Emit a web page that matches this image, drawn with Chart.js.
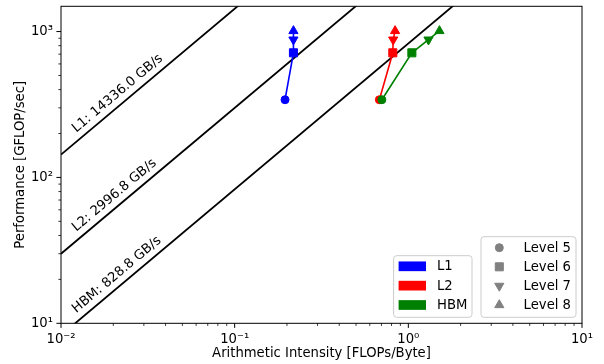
<!DOCTYPE html>
<html>
<head>
<meta charset="utf-8">
<title>Roofline</title>
<script src="https://cdn.jsdelivr.net/npm/chart.js@4.4.1/dist/chart.umd.min.js"></script>
<style>
  html, body { margin: 0; padding: 0; background: #fff; }
  canvas { display: block; }
</style>
</head>
<body>
<canvas id="roofline" width="604" height="364"></canvas>
<script>
// Speicherebenen und ihre Bandbreiten (GB/s)
const memoryLevels = ['L1', 'L2', 'HBM'];
const memoryColors = ['#0000ff', '#ff0000', '#008000'];
const bandwidths = [14336.0, 2996.8, 828.8];

// Kernel-Level, je ein Marker
const kernelLevels = ['Level 5', 'Level 6', 'Level 7', 'Level 8'];
const levelMarkers = ['circle', 'rect', 'triangle', 'triangle'];
const levelRotation = [0, 0, 180, 0];
const levelRadius = [4, 5.7, 5.3, 5.3];

// Arithmetische Intensität (FLOPs/Byte) pro Ebene
const l1Intensity = [0.195, 0.218, 0.218, 0.218];
const l2Intensity = [0.681, 0.814, 0.818, 0.839];
const hbmIntensity = [0.704, 1.048, 1.306, 1.511];
// Leistung (GFLOP/s), für alle Ebenen gleich
const performance = [341, 715, 880, 1010];

// Endpunkte der Dachlinien
const roofIntensity = [0.01, 10];
const l1Roof = [143.36, 143360];
const l2Roof = [29.968, 29968];
const hbmRoof = [8.288, 8288];

const xTickValues = [0.01, 0.1, 1, 10];
const xTickLabels = ['10⁻²', '10⁻¹', '10⁰', '10¹'];
const yTickValues = [10, 100, 1000];
const yTickLabels = ['10¹', '10²', '10³'];

const FONT = '"DejaVu Sans", sans-serif';
const FONT_SIZE = 13.2;
const MARKER_GRAY = '#808080';

Chart.defaults.font.family = FONT;
Chart.defaults.font.size = FONT_SIZE;
Chart.defaults.color = '#000';

function roofDataset(label, ys) {
  return {
    label: label,
    data: roofIntensity.map((x, i) => ({ x: x, y: ys[i] })),
    borderColor: '#000',
    borderWidth: 1.8,
    pointRadius: 0,
    order: 10,
  };
}

function levelDataset(label, xs, color, order) {
  return {
    label: label,
    data: xs.map((x, i) => ({ x: x, y: performance[i] })),
    borderColor: color,
    backgroundColor: color,
    borderWidth: 1.6,
    pointStyle: levelMarkers,
    pointRotation: levelRotation,
    pointRadius: levelRadius,
    pointBorderWidth: 1,
    order: order,
  };
}

function drawMarker(ctx, style, rotation, r, x, y) {
  ctx.beginPath();
  if (style === 'circle') {
    ctx.arc(x, y, r, 0, Math.PI * 2);
  } else if (style === 'rect') {
    const s = r / Math.SQRT2;
    ctx.rect(x - s, y - s, 2 * s, 2 * s);
  } else {
    let rad = rotation * Math.PI / 180;
    for (let k = 0; k < 3; k++) {
      const px = x + Math.sin(rad) * r;
      const py = y - Math.cos(rad) * r;
      if (k === 0) ctx.moveTo(px, py); else ctx.lineTo(px, py);
      rad += Math.PI * 2 / 3;
    }
    ctx.closePath();
  }
  ctx.fill();
  ctx.stroke();
}

function legendBox(ctx, left, top, w, h) {
  ctx.save();
  ctx.beginPath();
  ctx.roundRect(left, top, w, h, 3);
  ctx.fillStyle = 'rgba(255,255,255,0.8)';
  ctx.fill();
  ctx.strokeStyle = '#cccccc';
  ctx.lineWidth = 1;
  ctx.stroke();
  ctx.restore();
}

function minorValues(majors) {
  const out = [];
  for (let i = 0; i < majors.length - 1; i++) {
    for (let k = 2; k <= 9; k++) out.push(majors[i] * k);
  }
  return out;
}

// Rahmen, Ticks, Beschriftung der Dachlinien und die zwei Legenden
const decorPlugin = {
  id: 'decor',
  afterDraw(chart) {
    const ctx = chart.ctx;
    const ca = chart.chartArea;
    const xs = chart.scales.x;
    const ys = chart.scales.y;

    ctx.save();
    ctx.strokeStyle = '#000';

    // Ticks nach aussen
    const xtick = (vals, len, w) => {
      ctx.lineWidth = w;
      ctx.beginPath();
      vals.forEach((v) => {
        const px = xs.getPixelForValue(v);
        if (px < ca.left - 0.5 || px > ca.right + 0.5) return;
        ctx.moveTo(px, ca.bottom);
        ctx.lineTo(px, ca.bottom + len);
      });
      ctx.stroke();
    };
    const ytick = (vals, len, w) => {
      ctx.lineWidth = w;
      ctx.beginPath();
      vals.forEach((v) => {
        const py = ys.getPixelForValue(v);
        if (py < ca.top - 0.5 || py > ca.bottom + 0.5) return;
        ctx.moveTo(ca.left, py);
        ctx.lineTo(ca.left - len, py);
      });
      ctx.stroke();
    };
    xtick(xTickValues, 4.6, 1);
    xtick(minorValues(xTickValues), 2.6, 0.8);
    ytick(yTickValues, 4.6, 1);
    ytick(minorValues([10, 100, 1000, 10000]), 2.6, 0.8);

    ctx.lineWidth = 1;
    ctx.strokeRect(ca.left, ca.top, ca.right - ca.left, ca.bottom - ca.top);

    // Beschriftung entlang der Dachlinien
    const a0x = xs.getPixelForValue(0.01), a0y = ys.getPixelForValue(10);
    const a1x = xs.getPixelForValue(10), a1y = ys.getPixelForValue(10000);
    const angle = Math.atan2(a1y - a0y, a1x - a0x);
    const labelX = 0.013;
    ctx.fillStyle = '#000';
    ctx.font = FONT_SIZE + 'px ' + FONT;
    ctx.textAlign = 'left';
    ctx.textBaseline = 'alphabetic';
    bandwidths.forEach((bw, i) => {
      const px = xs.getPixelForValue(labelX);
      const py = ys.getPixelForValue(bw * labelX);
      ctx.save();
      ctx.translate(px, py);
      ctx.rotate(angle);
      ctx.fillText(memoryLevels[i] + ': ' + bw.toFixed(1) + ' GB/s', 0, -7);
      ctx.restore();
    });

    // Legende Marker (rechts)
    const l2w = 95, l2h = 80.6;
    const l2left = ca.right - 6 - l2w;
    const l2top = ca.bottom - 6 - l2h;
    legendBox(ctx, l2left, l2top, l2w, l2h);
    ctx.textBaseline = 'middle';
    kernelLevels.forEach((name, i) => {
      const cy = l2top + 11 + i * 19.1;
      ctx.fillStyle = MARKER_GRAY;
      ctx.strokeStyle = MARKER_GRAY;
      ctx.lineWidth = 1;
      drawMarker(ctx, levelMarkers[i], levelRotation[i], levelRadius[i], l2left + 18.3, cy);
      ctx.fillStyle = '#000';
      ctx.fillText(name, l2left + 42.6, cy + 0.5);
    });

    // Legende Farben (links daneben)
    const l1w = 78.4, l1h = 61.6;
    const l1left = l2left - 9 - l1w;
    const l1top = ca.bottom - 6 - l1h;
    legendBox(ctx, l1left, l1top, l1w, l1h);
    memoryLevels.forEach((name, i) => {
      const cy = l1top + 10.6 + i * 19.35;
      ctx.fillStyle = memoryColors[i];
      ctx.fillRect(l1left + 5, cy - 4.85, 27.4, 9.7);
      ctx.fillStyle = '#000';
      ctx.fillText(name, l1left + 43.4, cy + 0.5);
    });

    ctx.restore();
  },
};

new Chart(document.getElementById('roofline'), {
  type: 'line',
  data: {
    datasets: [
      roofDataset('L1 roof', l1Roof),
      roofDataset('L2 roof', l2Roof),
      roofDataset('HBM roof', hbmRoof),
      levelDataset('L1', l1Intensity, memoryColors[0], 3),
      levelDataset('L2', l2Intensity, memoryColors[1], 2),
      levelDataset('HBM', hbmIntensity, memoryColors[2], 1),
    ],
  },
  options: {
    responsive: false,
    animation: false,
    events: [],
    layout: { padding: { left: 0, top: 4, right: 22, bottom: 0 } },
    plugins: {
      legend: { display: false },
      tooltip: { enabled: false },
    },
    scales: {
      x: {
        type: 'logarithmic',
        min: 0.01,
        max: 10,
        afterBuildTicks: (scale) => {
          scale.ticks = xTickValues.map((v) => ({ value: v, major: true }));
        },
        afterFit: (scale) => {
          scale.height = 40.7;
          scale.paddingLeft = 0;
          scale.paddingRight = 0;
        },
        grid: { drawOnChartArea: false, drawTicks: false },
        border: { display: false },
        ticks: {
          autoSkip: false,
          maxRotation: 0,
          padding: 8,
          color: '#000',
          callback: (value, index) => xTickLabels[index],
        },
        title: {
          display: true,
          text: 'Arithmetic Intensity [FLOPs/Byte]',
          color: '#000',
          padding: { top: 0, bottom: 3 },
        },
      },
      y: {
        type: 'logarithmic',
        min: 10,
        max: 1490,
        afterBuildTicks: (scale) => {
          scale.ticks = yTickValues.map((v) => ({ value: v, major: true }));
        },
        afterFit: (scale) => {
          scale.width = 61;
          scale.paddingTop = 0;
          scale.paddingBottom = 0;
        },
        grid: { drawOnChartArea: false, drawTicks: false },
        border: { display: false },
        ticks: {
          autoSkip: false,
          padding: 8,
          color: '#000',
          callback: (value, index) => yTickLabels[index],
        },
        title: {
          display: true,
          text: 'Performance [GFLOP/sec]',
          color: '#000',
          padding: { top: 13, bottom: 0 },
        },
      },
    },
  },
  plugins: [decorPlugin],
});
</script>
</body>
</html>
